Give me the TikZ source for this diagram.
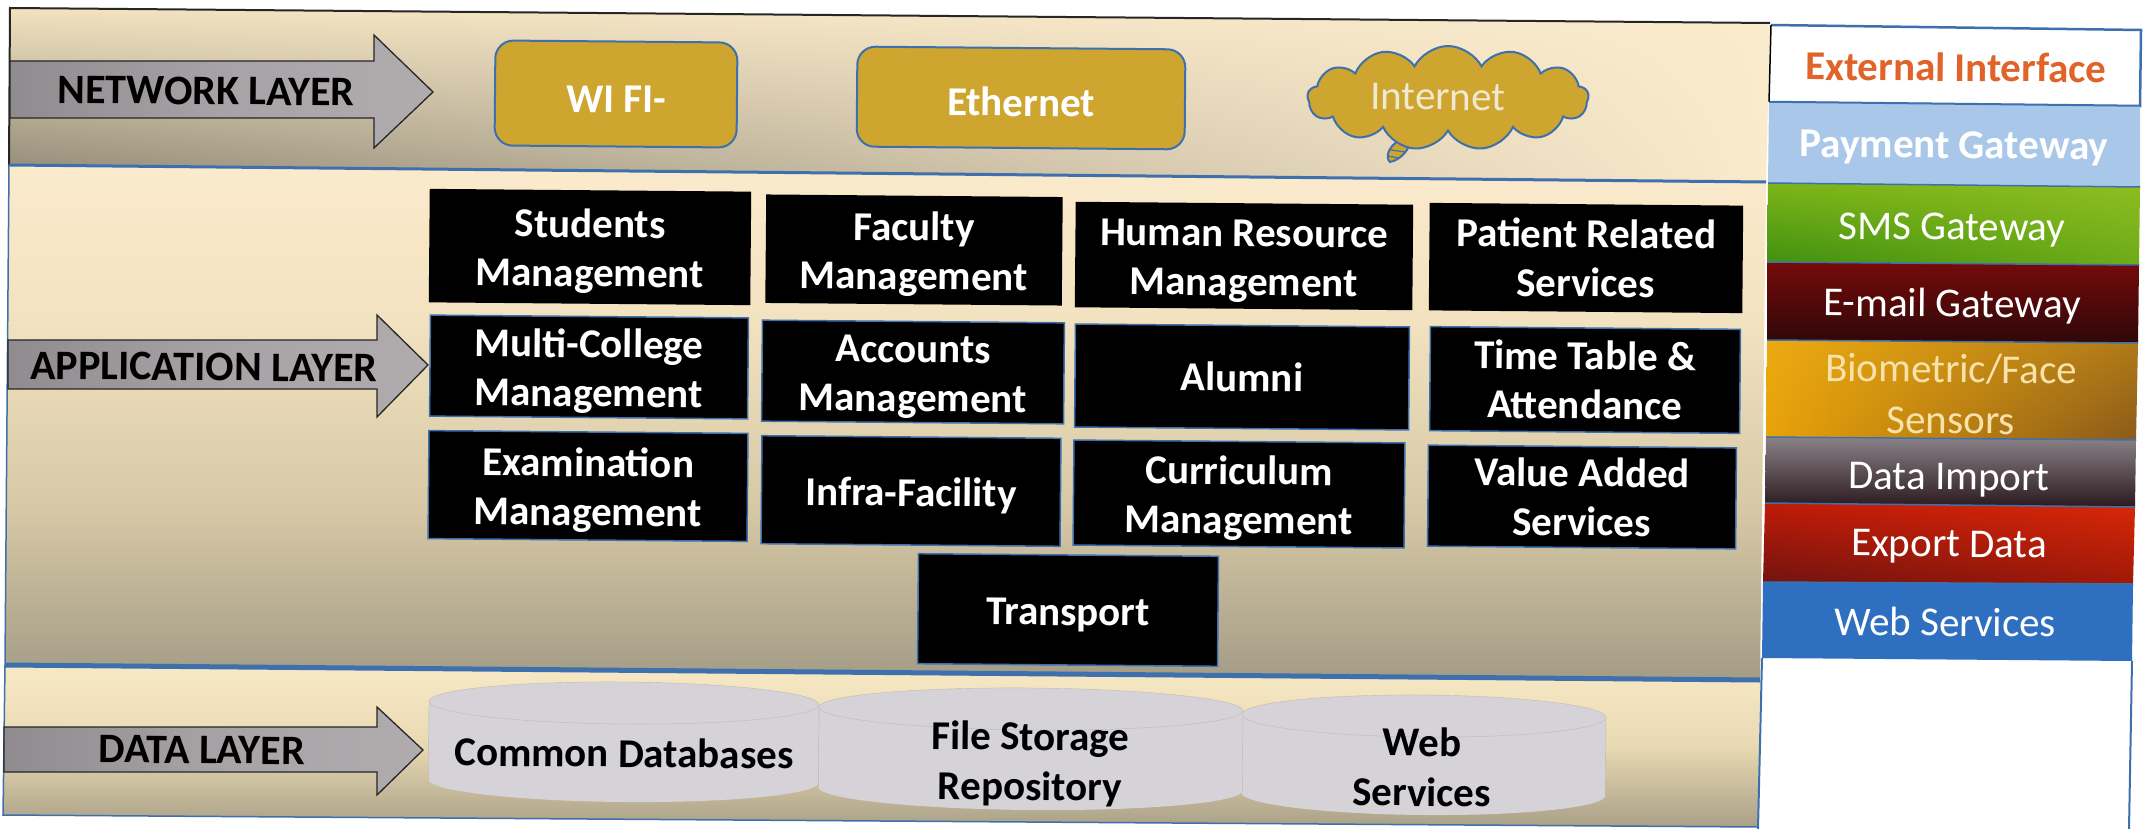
\documentclass[tikz,border=0pt]{standalone}
\usepackage{fontspec}
\setmainfont{Carlito}
\usetikzlibrary{shapes.symbols,shapes.geometric,shadings}
\definecolor{edgeblue}{HTML}{3F70AE}
\definecolor{gold}{HTML}{CDA52F}
\definecolor{ta}{HTML}{FBEBCD}
\definecolor{tb}{HTML}{F2E2C0}
\definecolor{tc}{HTML}{D8C9A6}
\definecolor{td}{HTML}{A39C86}
\definecolor{da}{HTML}{F8E9C6}
\definecolor{db}{HTML}{E9D9B3}
\definecolor{dc}{HTML}{A9A087}
\definecolor{nl}{HTML}{8E8775}
\definecolor{payc}{HTML}{A9C7E9}
\definecolor{smsa}{HTML}{7CB518}
\definecolor{smsb}{HTML}{8FBD20}
\definecolor{smsc}{HTML}{3F8F10}
\definecolor{smsd}{HTML}{6DAB18}
\definecolor{mailt}{HTML}{760A0A}
\definecolor{mailb}{HTML}{2E0808}
\definecolor{bioa}{HTML}{ECAA10}
\definecolor{biob}{HTML}{B07A18}
\definecolor{bioc}{HTML}{E8A208}
\definecolor{biod}{HTML}{8A5A1A}
\definecolor{impt}{HTML}{8A8288}
\definecolor{impb}{HTML}{2A1A1E}
\definecolor{expa}{HTML}{C01A08}
\definecolor{expb}{HTML}{D82808}
\definecolor{expc}{HTML}{701410}
\definecolor{expd}{HTML}{A01808}
\definecolor{webc}{HTML}{2F6FC0}
\definecolor{extc}{HTML}{E0642A}
\definecolor{bioText}{HTML}{F8E2AA}
\definecolor{inetText}{HTML}{F0E8D0}
\definecolor{cylfill}{HTML}{D6D3D8}
\definecolor{cyledge}{HTML}{BDBAB6}
\definecolor{arrl}{HTML}{8F8B8F}
\definecolor{arrm}{HTML}{A6A2A6}
\definecolor{arrr}{HTML}{B0ACAE}
\pgfdeclareverticalshading{appshade}{100bp}{color(0bp)=(td); color(25bp)=(td); color(42bp)=(tc); color(60bp)=(tb); color(75bp)=(ta); color(100bp)=(ta)}
\pgfdeclareverticalshading{datashade}{100bp}{color(0bp)=(dc); color(25bp)=(dc); color(50bp)=(db); color(75bp)=(da); color(100bp)=(da)}
\newcommand{\lowtext}{\rule{0pt}{37pt}}
\tikzset{
  boxnode/.style={rectangle,fill=black,draw=edgeblue,line width=1.5pt,text=white,
    font=\fontsize{41}{49}\selectfont\bfseries,align=center,rotate=-0.5,inner sep=0pt},
  goldbox/.style={rectangle,rounded corners=18pt,fill=gold,draw=edgeblue,line width=2pt,text=white,
    font=\fontsize{41}{46}\selectfont\bfseries,align=center,rotate=-0.5,inner sep=0pt},
  layertext/.style={text=black,font=\fontsize{42}{48}\selectfont\bfseries,rotate=-0.5,inner sep=0pt},
  arrowshape/.style={draw=black!85,line width=1.3pt,left color=arrl,right color=arrr,middle color=arrm},
  sidetext/.style={text=white,font=\fontsize{41}{51}\selectfont,align=center,rotate=-0.5,inner sep=0pt},
  sideline/.style={draw=edgeblue,line width=2.5pt},
  cyltext/.style={text=black,font=\fontsize{41}{50}\selectfont\bfseries,align=center,rotate=-0.5,inner sep=0pt},
}
\newcommand{\cylshape}[5]{%
  \begin{scope}[shift={(#1,#2)},rotate=-0.5]
    \fill[cylfill] (0,#5) ellipse [x radius=#3pt,y radius=#4pt];
    \fill[cylfill] (-#3,0) rectangle (#3,#5);
    \draw[cyledge] (-#3,0) -- (-#3,#5) (#3,0) -- (#3,#5);
    \draw[cyledge,fill=cylfill] (0,0) ellipse [x radius=#3pt,y radius=#4pt];
  \end{scope}}
\begin{document}
\begin{tikzpicture}[x=1pt,y=-1pt]
\useasboundingbox (0,0) rectangle (2150,829);
\fill[white] (0,0) rectangle (2150,829);
% panels
\shade[upper left=tb,upper right=ta,lower left=nl,lower right=ta]
  (10,8) -- (1770,23) -- (1766,182) -- (9,165) -- cycle;
\shade[shading=appshade] (9,165) -- (1766,182) -- (1760,680) -- (5,665) -- cycle;
\shade[shading=datashade] (5,665) -- (1760,680) -- (1758,827) -- (3,815) -- cycle;
\draw[black!85,line width=2pt] (9,165) -- (10,8) -- (1770,23);
\draw[edgeblue,line width=1.5pt] (9,165) -- (5,665) -- (3,815) -- (1758,827);
\draw[edgeblue,line width=3pt] (9,165) -- (1766,182);
\draw[edgeblue,line width=5pt] (5,665) -- (1760,680);
% right column
\draw[sideline] (1771,25) -- (2141,30) -- (2140,106) -- (1769,102);
\draw[black,line width=1.5pt] (1771,25) -- (1769,102);
\fill[payc] (1769,102) -- (2140,106) -- (2140,187) -- (1768,183) -- cycle;
\shade[upper left=smsa,upper right=smsb,lower left=smsc,lower right=smsd]
  (1768,183) -- (2140,187) -- (2139,265) -- (1767,262) -- cycle;
\shade[top color=mailt,bottom color=mailb]
  (1767,262) -- (2139,265) -- (2138,343) -- (1767,340) -- cycle;
\shade[upper left=bioa,upper right=biob,lower left=bioc,lower right=biod]
  (1767,340) -- (2138,343) -- (2136,440) -- (1766,437) -- cycle;
\shade[top color=impt,bottom color=impb]
  (1766,437) -- (2136,440) -- (2135,507) -- (1765,503) -- cycle;
\shade[upper left=expa,upper right=expb,lower left=expc,lower right=expd]
  (1765,503) -- (2135,507) -- (2133,584) -- (1763,582) -- cycle;
\fill[webc] (1763,582) -- (2133,584) -- (2132,661) -- (1762,658) -- cycle;
\draw[edgeblue,line width=1.5pt] (1769,102) -- (2140,106) (1768,183) -- (2140,187) (1767,262) -- (2139,265) (1767,340) -- (2138,343) (1766,437) -- (2136,440) (1765,503) -- (2135,507) (1763,582) -- (2133,584);
\draw[edgeblue,line width=2pt] (1762,658) -- (1758,829) (2132,661) -- (2129,829);
% side texts
\node[sidetext,text=extc,font=\fontsize{41}{48}\selectfont\bfseries] (ext) at (1956,67) {External Interface};
\node[sidetext,font=\fontsize{41}{48}\selectfont\bfseries] (pay) at (1954,148) {Payment Gateway};
\node[sidetext] (sms) at (1952,230) {SMS Gateway};
\node[sidetext] (mail) at (1952,306) {E-mail Gateway};
\node[sidetext,text=bioText] (bio) at (1951,394) {Biometric/Face\\Sensors};
\node[sidetext] (imp) at (1949,480) {Data Import};
\node[sidetext] (expo) at (1949,547) {Export Data};
\node[sidetext] (web) at (1945,622) {Web Services};
% layer arrows
\path[arrowshape] (10,61) -- (374,61) -- (374,35) -- (433,92) -- (374,148) -- (374,118) -- (10,118) -- cycle;
\path[arrowshape] (8,340) -- (377,340) -- (377,315) -- (428,365) -- (377,417) -- (377,389) -- (8,389) -- cycle;
\path[arrowshape] (4,727) -- (377,727) -- (377,707) -- (423,750) -- (377,795) -- (377,772) -- (4,772) -- cycle;
\node[layertext] (netl) at (206,91) {NETWORK LAYER};
\node[layertext] (appl) at (204,367) {APPLICATION LAYER};
\node[layertext] (datl) at (202,750) {DATA LAYER};
% network items
\node[goldbox,minimum width=242pt,minimum height=105pt] (wifi) at (616,94) {\lowtext WI FI-};
\node[goldbox,minimum width=328pt,minimum height=100pt] (eth) at (1021,98) {\lowtext Ethernet};
\path[fill=gold,draw=edgeblue,line width=2pt] (1410,140) .. controls (1410,150) and (1400,160) .. (1390,162) .. controls (1385,158) and (1388,146) .. (1400,140) -- cycle;
\draw[edgeblue,line width=1.2pt] (1391,150) -- (1405,152) (1388,156) -- (1398,158);
\node[cloud,cloud puffs=13,cloud puff arc=125,aspect=2.7,fill=gold,draw=edgeblue,line width=2pt,minimum width=281pt,minimum height=104pt,inner sep=0pt] (cloudshape) at (1448,98) {};
\node[text=inetText,font=\fontsize{41}{48}\selectfont,inner sep=0pt,rotate=-0.5] (inet) at (1438,97) {Internet};
% application boxes
\node[boxnode,draw=black,minimum width=320pt,minimum height=112pt] (students) at (590,247) {\lowtext Students\\Management};
\node[boxnode,draw=black,minimum width=295pt,minimum height=107pt] (faculty) at (914,250) {\lowtext Faculty\\Management};
\node[boxnode,draw=black,minimum width=336pt,minimum height=104pt] (hr) at (1244,256) {\lowtext Human Resource\\Management};
\node[boxnode,draw=black,minimum width=312pt,minimum height=106pt] (patient) at (1586,258) {Patient Related\\Services};
\node[boxnode,minimum width=318pt,minimum height=101pt] (multi) at (589,367) {\lowtext Multi-College\\Management};
\node[boxnode,minimum width=302pt,minimum height=101pt] (accounts) at (913,372) {\lowtext Accounts\\Management};
\node[boxnode,minimum width=334pt,minimum height=103pt] (alumni) at (1242,377) {Alumni};
\node[boxnode,minimum width=310pt,minimum height=104pt] (timetable) at (1585,380) {Time Table \&\\Attendance};
\node[boxnode,minimum width=319pt,minimum height=108pt] (exam) at (588,486) {\lowtext Examination\\Management};
\node[boxnode,minimum width=299pt,minimum height=108pt] (infra) at (911,491) {\lowtext Infra-Facility};
\node[boxnode,minimum width=331pt,minimum height=105pt] (curr) at (1239,494) {\lowtext Curriculum\\Management};
\node[boxnode,minimum width=308pt,minimum height=101pt] (value) at (1582,497) {Value Added\\Services};
\node[boxnode,minimum width=300pt,minimum height=110pt] (transport) at (1068,610) {\lowtext Transport};
% cylinders
\cylshape{1424}{716}{182}{21}{78}
\cylshape{1031}{709}{212}{21}{80}
\cylshape{624}{703}{195}{21}{78}
\node[cyltext] (common) at (624,753) {Common Databases};
\node[cyltext] (files) at (1030,764) {File Storage\\Repository};
\node[cyltext] (webs) at (1422,767) {Web\\Services};
\end{tikzpicture}
\end{document}
